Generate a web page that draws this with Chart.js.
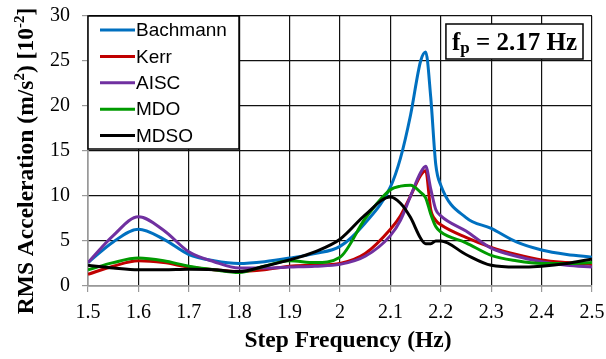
<!DOCTYPE html>
<html>
<head>
<meta charset="utf-8">
<script src="https://cdn.jsdelivr.net/npm/chart.js@4/dist/chart.umd.min.js"></script>
<style>
  html, body { margin: 0; padding: 0; background: #fff; }
  #wrap { width: 606px; height: 359px; }
</style>
</head>
<body>
<div id="wrap"><canvas id="rms_chart" width="606" height="359"></canvas></div>
<script>
// Step frequencies (Hz) where the curves were read
var freq = [1.5, 1.55, 1.6, 1.65, 1.7, 1.75, 1.8, 1.85, 1.9, 1.95, 2.0, 2.05, 2.1,
            2.12, 2.14, 2.16, 2.17, 2.18, 2.19, 2.2, 2.25, 2.3, 2.35, 2.4, 2.45, 2.5];

// RMS acceleration [10^-2 m/s2]
var bachmann = [2.6, 4.9, 6.3, 5.2, 3.5, 2.8, 2.5, 2.7, 3.1, 3.6, 4.4, 7.0, 11.0,
                14.2, 19.0, 25.0, 26.0, 21.0, 13.5, 11.2, 7.6, 6.4, 4.9, 4.0, 3.5, 3.2];
var kerr     = [1.3, 2.2, 2.8, 2.6, 2.1, 1.8, 1.6, 1.8, 2.2, 2.3, 2.5, 3.6, 6.3,
                7.8, 10.0, 12.3, 12.8, 8.5, 7.3, 6.8, 5.4, 4.3, 3.5, 2.9, 2.6, 2.4];
var aisc     = [2.6, 5.6, 7.7, 6.2, 3.8, 2.7, 2.0, 2.0, 2.1, 2.2, 2.4, 3.3, 5.6,
                7.3, 10.0, 12.6, 13.3, 10.8, 8.5, 7.8, 6.1, 4.2, 3.3, 2.7, 2.3, 2.1];
var mdo      = [1.8, 2.6, 3.1, 2.8, 2.2, 1.8, 1.5, 2.2, 2.8, 2.6, 3.2, 7.5, 10.7,
                11.1, 11.2, 10.4, 9.8, 8.0, 6.6, 6.0, 4.8, 3.4, 2.8, 2.5, 2.5, 2.6];
var mdso     = [2.3, 2.0, 1.8, 1.8, 1.85, 1.8, 1.6, 2.2, 2.9, 3.8, 5.2, 7.9, 9.9,
                9.2, 7.6, 5.3, 4.7, 4.7, 5.0, 5.0, 3.5, 2.3, 2.1, 2.2, 2.5, 3.0];

var series_names  = ["Bachmann", "Kerr", "AISC", "MDO", "MDSO"];
var series_values = [bachmann, kerr, aisc, mdo, mdso];
var series_colors = ["#0070C0", "#C00000", "#7030A0", "#009A00", "#000000"];

var x_ticks_step = 0.1;
var y_ticks_step = 5;
var fp_label = "2.17 Hz";
var x_title = "Step Frequency (Hz)";

var SERIF = "'Liberation Serif', 'Times New Roman', serif";

function to_points(values) {
    return values.map(function (v, i) { return { x: freq[i], y: v }; });
}

// Draw a run of [text, superscript?] parts starting at x, returns end x
function draw_parts(ctx, parts, x, y, big, small) {
    parts.forEach(function (p) {
        ctx.font = p[1] ? small : big;
        ctx.fillText(p[0], x, p[1] ? y - 9 : y);
        x += ctx.measureText(p[0]).width;
    });
    return x;
}

function parts_width(ctx, parts, big, small) {
    var w = 0;
    parts.forEach(function (p) {
        ctx.font = p[1] ? small : big;
        w += ctx.measureText(p[0]).width;
    });
    return w;
}

// Axis titles (y title needs real superscripts)
var axis_titles = {
    id: "axis_titles",
    afterDraw: function (chart) {
        var ctx = chart.ctx;
        var area = chart.chartArea;
        var big = "bold 23.5px " + SERIF;
        var small = "bold 15px " + SERIF;
        ctx.save();
        ctx.fillStyle = "#000";
        ctx.textBaseline = "alphabetic";

        // x title
        ctx.font = big;
        ctx.textAlign = "center";
        ctx.fillText(x_title, (area.left + area.right) / 2 + 8, 347);

        // y title, rotated
        ctx.textAlign = "left";
        var parts = [["RMS Acceleration (m/s", false], ["2", true], [") [10", false], ["-2", true], ["]", false]];
        var w = parts_width(ctx, parts, big, small);
        var cy = (area.top + area.bottom) / 2 + 10;
        ctx.translate(33, cy);
        ctx.rotate(-Math.PI / 2);
        draw_parts(ctx, parts, -w / 2, 0, big, small);
        ctx.restore();
    }
};

// Legend box drawn inside the plot area, top left
var legend_box = {
    id: "legend_box",
    afterDatasetsDraw: function (chart) {
        var ctx = chart.ctx;
        var area = chart.chartArea;
        var x0 = area.left, y0 = area.top;
        var w = 151, h = 133;
        ctx.save();
        ctx.fillStyle = "#fff";
        ctx.fillRect(x0, y0, w, h);
        ctx.strokeStyle = "#000";
        ctx.lineWidth = 1.5;
        ctx.strokeRect(x0, y0, w, h);
        ctx.font = "19px 'Liberation Sans', Arial, sans-serif";
        ctx.textBaseline = "middle";
        chart.data.datasets.forEach(function (ds, i) {
            var y = y0 + 14 + i * 26.4;
            ctx.strokeStyle = ds.borderColor;
            ctx.lineWidth = 3;
            ctx.beginPath();
            ctx.moveTo(x0 + 12, y);
            ctx.lineTo(x0 + 47, y);
            ctx.stroke();
            ctx.fillStyle = "#000";
            ctx.fillText(ds.label, x0 + 48, y + 1);
        });
        ctx.restore();
    }
};

// "f_p = 2.17 Hz" box top right
var fp_box = {
    id: "fp_box",
    afterDatasetsDraw: function (chart) {
        var ctx = chart.ctx;
        var area = chart.chartArea;
        var big = "bold 25px " + SERIF;
        var small = "bold 17px " + SERIF;
        var rest = " = " + fp_label;
        ctx.save();
        ctx.font = big;
        var wf = ctx.measureText("f").width;
        var wr = ctx.measureText(rest).width;
        ctx.font = small;
        var wp = ctx.measureText("p").width;
        var tw = wf + wp + wr;
        var bx1 = area.right - 9, bx0 = bx1 - tw - 12;
        var by0 = area.top + 8, bh = 35;
        ctx.fillStyle = "#fff";
        ctx.fillRect(bx0, by0, bx1 - bx0, bh);
        ctx.strokeStyle = "#000";
        ctx.lineWidth = 1.5;
        ctx.strokeRect(bx0, by0, bx1 - bx0, bh);
        ctx.fillStyle = "#000";
        ctx.textBaseline = "alphabetic";
        var tx = bx0 + 6, ty = by0 + 26;
        ctx.font = big;
        ctx.fillText("f", tx, ty);
        ctx.font = small;
        ctx.fillText("p", tx + wf, ty + 3);
        ctx.font = big;
        ctx.fillText(rest, tx + wf + wp, ty);
        ctx.restore();
    }
};

function init_chart() {
    var ctx = document.getElementById("rms_chart").getContext("2d");

    var datasets = series_names.map(function (name, i) {
        return {
            label: name,
            data: to_points(series_values[i]),
            borderColor: series_colors[i],
            backgroundColor: series_colors[i],
            borderWidth: 3,
            pointRadius: 0,
            cubicInterpolationMode: "monotone",
            fill: false,
            order: series_names.length - i
        };
    });

    var tick_font = { family: SERIF, size: 20 };

    new Chart(ctx, {
        type: "line",
        data: { datasets: datasets },
        options: {
            responsive: false,
            animation: false,
            layout: { padding: { top: 16, right: 14, left: 0, bottom: 0 } },
            plugins: {
                legend: { display: false },
                tooltip: { enabled: false }
            },
            scales: {
                x: {
                    type: "linear",
                    min: 1.5,
                    max: 2.5,
                    afterFit: function (scale) {
                        scale.height = 73;
                        scale.paddingLeft = 0;
                        scale.paddingRight = 0;
                    },
                    ticks: {
                        stepSize: x_ticks_step,
                        color: "#000",
                        font: tick_font,
                        padding: 9,
                        maxRotation: 0,
                        callback: function (v) { return String(+v.toFixed(1)); }
                    },
                    grid: { color: "#111", lineWidth: 1.2, tickLength: 6, tickColor: "#999" },
                    border: { color: "#999", width: 1.5 },
                    title: { display: false }
                },
                y: {
                    min: 0,
                    max: 30,
                    afterFit: function (scale) {
                        scale.width = 88;
                        scale.paddingTop = 0;
                        scale.paddingBottom = 0;
                    },
                    ticks: {
                        stepSize: y_ticks_step,
                        color: "#000",
                        font: tick_font,
                        padding: 12
                    },
                    grid: { color: "#111", lineWidth: 1.2, tickLength: 6, tickColor: "#999" },
                    border: { color: "#999", width: 1.5 },
                    title: { display: false }
                }
            }
        },
        plugins: [legend_box, fp_box, axis_titles]
    });
}

init_chart();
</script>
</body>
</html>
